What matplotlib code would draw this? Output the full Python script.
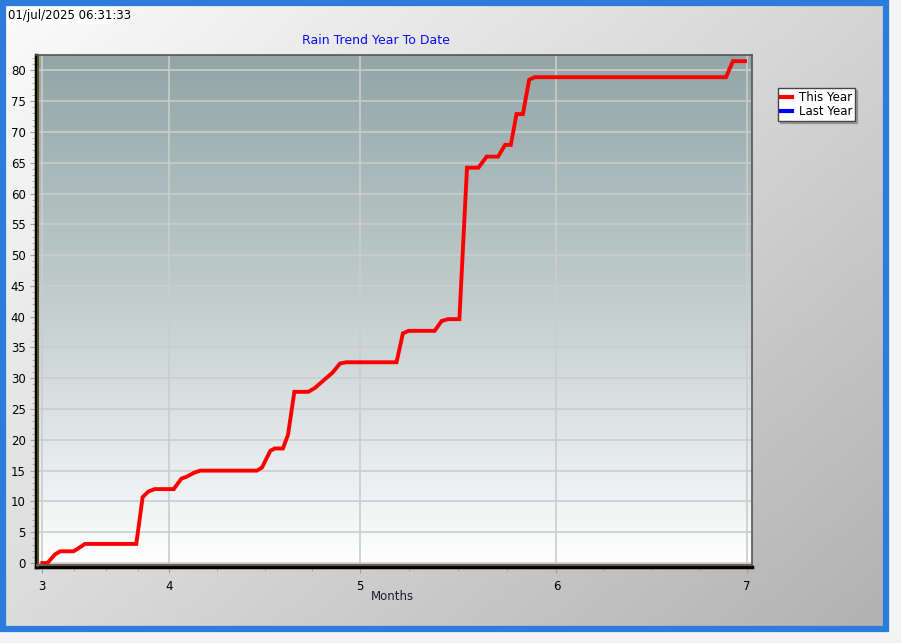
import numpy as np
import matplotlib
matplotlib.use("Agg")
from matplotlib import pyplot as plt
from matplotlib.patches import Rectangle
from matplotlib.lines import Line2D

# day of year / cumulative rain (mm)
days = [71, 71.8, 73, 73.8, 75.9, 76.7, 77.7, 85.8, 86.8, 87.7,
        88.7, 91.7, 92.9, 93.7, 95.0, 95.9, 104.8, 105.6, 106.9, 107.6,
        108.9, 109.7, 110.7, 112.9, 113.9, 115.8, 116.7, 117.9, 118.9, 126.8,
        127.8, 128.7, 132.8, 133.9, 134.9, 136.7, 137.9, 139.7, 141.0, 142.8,
        143.9, 144.8, 145.7, 146.7, 147.7, 148.6, 178.7, 179.8, 181.7]
rain = [0, 0, 1.4, 1.9, 1.9, 2.4, 3.1, 3.1, 10.7, 11.6,
        12.0, 12.0, 13.7, 14.0, 14.7, 15.0, 15.0, 15.5, 18.2, 18.6,
        18.6, 20.8, 27.8, 27.8, 28.4, 30.1, 30.9, 32.4, 32.6, 32.6,
        37.3, 37.7, 37.7, 39.3, 39.6, 39.6, 64.2, 64.2, 66.0, 66.0,
        67.9, 67.9, 72.9, 72.9, 78.5, 78.9, 78.9, 81.5, 81.5]

month_pos = [71, 91, 121, 152, 182]
month_lbl = ["3", "4", "5", "6", "7"]

W, H = 901, 643
fig = plt.figure(figsize=(W / 100, H / 100), dpi=100)
fig.patch.set_facecolor("#f4f4f4")

# background panel with diagonal gradient + blue frame
bg = fig.add_axes([0, 0, 1, 1], zorder=-10)
bg.set_xlim(0, W)
bg.set_ylim(H, 0)
bg.axis("off")
gx, gy = np.meshgrid(np.linspace(0, 1, 200), np.linspace(0, 1, 200))
g = (gx * 0.55 + gy * 0.45)
cmap = matplotlib.colors.LinearSegmentedColormap.from_list("bg", ["#fbfbfb", "#d8d8d8", "#b2b2b2"])
bg.imshow(g, cmap=cmap, extent=[6, 884, 626, 6], aspect="auto", zorder=0)
bg.add_patch(Rectangle((3, 3), 883, 626, fill=False, edgecolor="#2a7ddc", lw=4.5, zorder=2))
bg.add_patch(Rectangle((7, 7), 106, 17, facecolor="white", edgecolor="none", zorder=1))
bg.text(8, 16, "01/jul/2025 06:31:33", fontsize=8.5, va="center", ha="left", color="black", zorder=3)
bg.text(376, 41, "Rain Trend Year To Date", fontsize=9, va="center", ha="center", color="#0a0af5", zorder=3)

ax = fig.add_axes([36 / W, 1 - 567 / H, (752 - 36) / W, (567 - 55) / H])
ax.set_xlim(70, 182.8)
ax.set_ylim(-0.65, 82.5)

# plot area gradient (dark at top to white at bottom)
pcmap = matplotlib.colors.LinearSegmentedColormap.from_list("pa", ["#ffffff", "#c4cfcf", "#93a5a5"])
ax.imshow(np.linspace(0, 1, 256).reshape(-1, 1)[::-1], cmap=pcmap, extent=[0, 1, 0, 1],
          transform=ax.transAxes, aspect="auto", zorder=0)

ax.set_xticks(month_pos)
ax.set_xticklabels(month_lbl)
minor_x = []
for a, b in zip(month_pos[:-1], month_pos[1:]):
    minor_x += list(np.linspace(a, b, 5)[1:-1])
ax.set_xticks(minor_x, minor=True)
ax.set_yticks(range(0, 81, 5))
ax.set_yticks(range(0, 83), minor=True)

ax.grid(True, which="major", color="#c9cdcd", lw=1.2, zorder=1)
ax.tick_params(axis="both", which="major", labelsize=8.5, colors="#a0a0a0", labelcolor="black", length=4)
ax.tick_params(axis="both", which="minor", colors="#a0a0a0", length=3)
ax.tick_params(axis="x", pad=5)

ax.plot(days, rain, color="red", lw=2.8, zorder=3, solid_joinstyle="miter")

for side in ["top", "right"]:
    ax.spines[side].set_color("#555555")
    ax.spines[side].set_linewidth(1.2)
ax.spines["left"].set_color("black")
ax.spines["left"].set_linewidth(2.5)
ax.spines["bottom"].set_color("black")
ax.spines["bottom"].set_linewidth(2.5)
# thin olive wall / brown floor of the 3d frame
ax.axvline(70.35, color="#5a4f1c", lw=1.5, zorder=4)
ax.axhline(-0.35, color="#6e5a4c", lw=1.5, zorder=4)

ax.set_xlabel("Months", fontsize=8.5, color="#1a1a2e", labelpad=1)
ax.xaxis.set_label_coords((392 - 36) / (752 - 36), -0.045)

handles = [Line2D([], [], color="red", lw=3), Line2D([], [], color="blue", lw=3)]
leg = fig.legend(handles, ["This Year", "Last Year"], loc="upper left",
                 bbox_to_anchor=(778 / W, 1 - 88 / H), fontsize=8.5, frameon=True,
                 fancybox=False, shadow={"ox": 1.5, "oy": -1.5, "alpha": 0.35}, handlelength=0.9,
                 handletextpad=0.6, borderpad=0.25, labelspacing=0.1, borderaxespad=0)
leg.get_frame().set_edgecolor("#444444")
leg.get_frame().set_linewidth(1.0)

fig.savefig("out.png", dpi=100)
